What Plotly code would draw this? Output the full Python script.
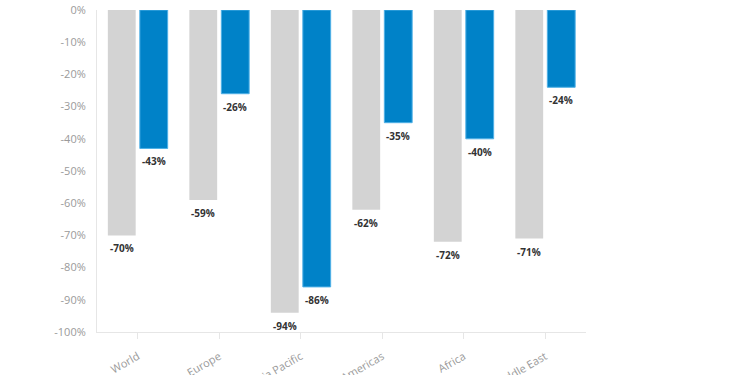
import plotly.graph_objects as go

categories = ["World", "Europe", "Asia Pacific", "Americas", "Africa", "Middle East"]
grey_values = [-70, -59, -94, -62, -72, -71]
blue_values = [-43, -26, -86, -35, -40, -24]
y_tick_vals = [0, -10, -20, -30, -40, -50, -60, -70, -80, -90, -100]
y_tick_text = [f"{v}%" for v in y_tick_vals]

GREY = "#d3d3d3"
BLUE = "#0082c8"
LABEL_FONT = dict(family="Open Sans, Noto Sans, sans-serif", size=10, color="#333333")

fig = go.Figure()
fig.add_trace(go.Bar(x=categories, y=grey_values, marker=dict(color=GREY, line=dict(width=0)),
                     hoverinfo="skip", showlegend=False))
fig.add_trace(go.Bar(x=categories, y=blue_values,
                     marker=dict(color=BLUE, line=dict(color="#4fb0e6", width=1)),
                     hoverinfo="skip", showlegend=False))

annotations = []
for cat, g, b in zip(categories, grey_values, blue_values):
    annotations.append(dict(x=cat, y=g, xref="x", yref="y", text=f"<b>{g}%</b>", showarrow=False,
                            xshift=-16, yshift=-13, font=LABEL_FONT))
    annotations.append(dict(x=cat, y=b, xref="x", yref="y", text=f"<b>{b}%</b>", showarrow=False,
                            xshift=16, yshift=-13, font=LABEL_FONT))

fig.update_layout(
    width=750, height=375,
    margin=dict(l=97, r=164, t=10, b=43, autoexpand=False),
    paper_bgcolor="white", plot_bgcolor="white",
    barmode="group", bargap=0.215, bargroupgap=0.13,
    annotations=annotations,
    showlegend=False,
)
fig.update_xaxes(
    type="category", showgrid=False, zeroline=False,
    showline=True, linecolor="#e6e6e6", linewidth=1,
    ticks="outside", tickcolor="#e6e6e6", ticklen=6, tickwidth=1,
    tickangle=-30, ticklabelstandoff=7,
    tickfont=dict(family="Open Sans, Noto Sans, sans-serif", size=11, color="#9a9a9a"),
    automargin=False,
)
fig.update_yaxes(
    range=[-100, 0], tickvals=y_tick_vals, ticktext=y_tick_text,
    showgrid=False, zeroline=False,
    showline=True, linecolor="#e6e6e6", linewidth=1,
    ticks="", ticklabelstandoff=8,
    tickfont=dict(family="Open Sans, Noto Sans, sans-serif", size=11, color="#9a9a9a"),
    automargin=False,
)

fig.write_html(
    "out.html",
    config={"displayModeBar": False, "staticPlot": True},
    post_script="document.body.style.margin='0px'; document.body.style.overflow='hidden';",
)
